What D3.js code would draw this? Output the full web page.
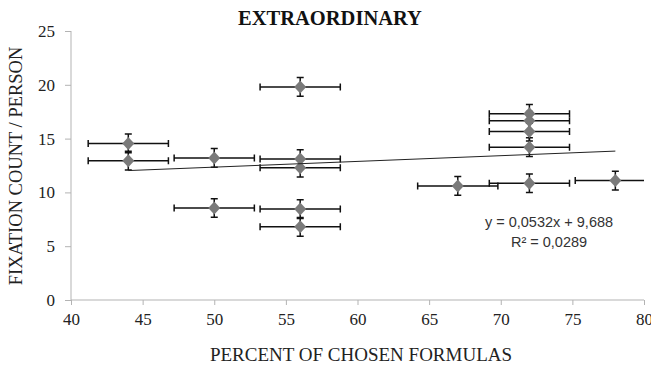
<!DOCTYPE html>
<html>
<head>
<meta charset="utf-8">
<script src="https://cdn.jsdelivr.net/npm/d3@7"></script>
<style>
  body { margin: 0; background: #fff; }
  .tick text { font-family: "Liberation Serif", "Times New Roman", serif; font-size: 17px; fill: #222; }
  .axis path, .axis line { stroke: #b3b3b3; }
</style>
</head>
<body>
<div id="chart"></div>
<script>
// Chart data
var xValues = [44, 44, 50, 56, 56, 56, 50, 56, 56, 67, 72, 78, 72, 72, 72, 72];
var yValues = [14.55, 12.95, 13.2, 19.8, 13.1, 12.3, 8.55, 8.45, 6.8, 10.6, 10.85, 11.1, 17.3, 16.65, 15.65, 14.2];
var xErrors = [2.8, 2.8, 2.8, 2.8, 2.8, 2.8, 2.8, 2.8, 2.8, 2.8, 2.8, 2.8, 2.8, 2.8, 2.8, 2.8];
var yErrors = [0.87, 0.87, 0.87, 0.87, 0.87, 0.87, 0.87, 0.87, 0.87, 0.87, 0.87, 0.87, 0.87, 0.87, 0.87, 0.87];
var xTicks = [40, 45, 50, 55, 60, 65, 70, 75, 80];
var yTicks = [0, 5, 10, 15, 20, 25];
var trendSlope = 0.0532;
var trendIntercept = 9.688;
var trendLabels = ["y = 0,0532x + 9,688", "R² = 0,0289"];

// Chart setup
var svgWidth = 651;
var svgHeight = 369;

var margin = { top: 31, right: 7, bottom: 69, left: 71 };

var width = svgWidth - margin.left - margin.right;
var height = svgHeight - margin.top - margin.bottom;

var svg = d3.select("#chart").append("svg")
  .attr("width", svgWidth)
  .attr("height", svgHeight);

var chartGroup = svg.append("g")
  .attr("transform", `translate(${margin.left}, ${margin.top})`);

var points = xValues.map(function(x, i) {
  return { x: x, y: yValues[i], ex: xErrors[i], ey: yErrors[i] };
});

// Scales
var xScale = d3.scaleLinear().domain([40, 80]).range([0, width]);
var yScale = d3.scaleLinear().domain([0, 25]).range([height, 0]);

// Axes
var bottomAxis = d3.axisBottom(xScale).tickValues(xTicks).tickSize(5).tickPadding(8).tickFormat(d3.format("d"));
var leftAxis = d3.axisLeft(yScale).tickValues(yTicks).tickSize(6).tickPadding(10).tickFormat(d3.format("d"));

chartGroup.append("g")
  .attr("class", "axis")
  .attr("transform", `translate(0, ${height})`)
  .call(bottomAxis)
  .call(g => g.select(".domain").attr("d", `M0,0H${width}`));

chartGroup.append("g")
  .attr("class", "axis")
  .call(leftAxis)
  .call(g => g.select(".domain").attr("d", `M0,0V${height}`));

// clip so the bar past 80 is cut like in the original
svg.append("clipPath").attr("id", "plotClip")
  .append("rect").attr("x", -1).attr("y", -10).attr("width", width + 1).attr("height", height + 20);

var bars = chartGroup.append("g").attr("clip-path", "url(#plotClip)")
  .attr("stroke", "#111").attr("stroke-width", 1.5).attr("fill", "none");

// horizontal error bars
bars.selectAll(".xerr")
  .data(points)
  .enter()
  .append("path")
  .attr("class", "xerr")
  .attr("d", function(d) {
    var x0 = xScale(d.x - d.ex), x1 = xScale(d.x + d.ex), y = yScale(d.y);
    return `M${x0},${y}H${x1}M${x0},${y - 3.5}V${y + 3.5}M${x1},${y - 3.5}V${y + 3.5}`;
  });

// vertical error bars
bars.selectAll(".yerr")
  .data(points)
  .enter()
  .append("path")
  .attr("class", "yerr")
  .attr("d", function(d) {
    var x = xScale(d.x), y0 = yScale(d.y - d.ey), y1 = yScale(d.y + d.ey);
    return `M${x},${y0}V${y1}M${x - 3.5},${y0}H${x + 3.5}M${x - 3.5},${y1}H${x + 3.5}`;
  });

// diamond markers
chartGroup.selectAll(".marker")
  .data(points)
  .enter()
  .append("path")
  .attr("class", "marker")
  .attr("transform", d => `translate(${xScale(d.x)}, ${yScale(d.y)})`)
  .attr("d", "M0,-6.5L6,0L0,6.5L-6,0Z")
  .attr("fill", "#7a7a7a");

// trend line
var xMin = d3.min(xValues), xMax = d3.max(xValues);
chartGroup.append("line")
  .attr("x1", xScale(xMin))
  .attr("y1", yScale(trendSlope * xMin + trendIntercept))
  .attr("x2", xScale(xMax))
  .attr("y2", yScale(trendSlope * xMax + trendIntercept))
  .attr("stroke", "#222")
  .attr("stroke-width", 1);

// equation label
chartGroup.append("g")
  .selectAll("text")
  .data(trendLabels)
  .enter()
  .append("text")
  .attr("x", 478)
  .attr("y", (d, i) => 196 + i * 20)
  .attr("text-anchor", "middle")
  .attr("font-family", "'Liberation Sans', Arial, sans-serif")
  .attr("font-size", "14.5px")
  .attr("fill", "#333")
  .text(d => d);

// Title and axis labels
svg.append("text")
  .attr("x", 330)
  .attr("y", 25)
  .attr("text-anchor", "middle")
  .attr("font-family", "'Liberation Serif', 'Times New Roman', serif")
  .attr("font-weight", "bold")
  .attr("font-size", "20.5px")
  .attr("fill", "#111")
  .text("EXTRAORDINARY");

svg.append("text")
  .attr("transform", "translate(22, 166) rotate(-90)")
  .attr("text-anchor", "middle")
  .attr("font-family", "'Liberation Serif', 'Times New Roman', serif")
  .attr("font-size", "18.5px")
  .attr("fill", "#222")
  .text("FIXATION COUNT / PERSON");

svg.append("text")
  .attr("x", 361)
  .attr("y", 361)
  .attr("text-anchor", "middle")
  .attr("font-family", "'Liberation Serif', 'Times New Roman', serif")
  .attr("font-size", "19px")
  .attr("fill", "#222")
  .text("PERCENT OF CHOSEN FORMULAS");
</script>
</body>
</html>
